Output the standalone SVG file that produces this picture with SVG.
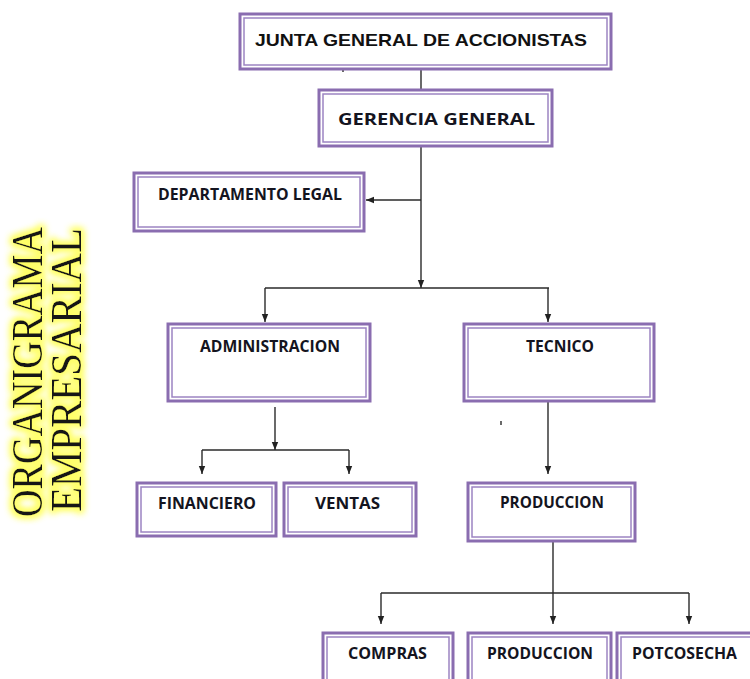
<svg xmlns="http://www.w3.org/2000/svg" width="750" height="679" viewBox="0 0 750 679">
<defs>
<style>
.outer{fill:#fff;stroke:#8a6db0;stroke-width:3}
.inner{fill:none;stroke:#9c84c2;stroke-width:1.5}
.lbl{font-family:"Open Sans",Lato,"Liberation Sans",sans-serif;font-weight:bold;fill:#141420;font-size:16px}
.con{fill:none;stroke:#2a2a2a;stroke-width:1.4}
.title{font-family:"Liberation Serif","DejaVu Serif",serif;font-size:44px;fill:#151515}
</style>
<marker id="arr" markerUnits="userSpaceOnUse" markerWidth="8" markerHeight="8" viewBox="0 0 8 8" refX="8" refY="4" orient="auto">
<path d="M0,0.8 L8,4 L0,7.2 Z" fill="#222"/>
</marker>
<filter id="glow" x="-20%" y="-20%" width="140%" height="140%">
<feMorphology in="SourceAlpha" operator="dilate" radius="2" result="d"/>
<feGaussianBlur in="d" stdDeviation="3.5" result="b"/>
<feFlood flood-color="#ffff66"/>
<feComposite in2="b" operator="in" result="g"/>
<feMerge><feMergeNode in="g"/><feMergeNode in="g"/><feMergeNode in="SourceGraphic"/></feMerge>
</filter>
</defs>
<rect width="750" height="679" fill="#fff"/>

<g id="title" filter="url(#glow)">
<text class="title" transform="translate(42,517) rotate(-90)" textLength="290" lengthAdjust="spacingAndGlyphs">ORGANIGRAMA</text>
<text class="title" transform="translate(81,512) rotate(-90)" textLength="284" lengthAdjust="spacingAndGlyphs">EMPRESARIAL</text>
</g>

<g id="connectors">
<path class="con" d="M421,70 V89"/>
<path class="con" d="M343,68 V72"/>
<path class="con" d="M421,147 V288" marker-end="url(#arr)"/>
<path class="con" d="M421,200 H366" marker-end="url(#arr)"/>
<path class="con" d="M265,288 H549"/>
<path class="con" d="M265,288 V322" marker-end="url(#arr)"/>
<path class="con" d="M548,288 V322" marker-end="url(#arr)"/>
<path class="con" d="M275,407 V450" marker-end="url(#arr)"/>
<path class="con" d="M202,450 H349"/>
<path class="con" d="M202,450 V474" marker-end="url(#arr)"/>
<path class="con" d="M349,450 V474" marker-end="url(#arr)"/>
<path class="con" d="M548,402 V474" marker-end="url(#arr)"/>
<path class="con" d="M501,421 V425"/>
<path class="con" d="M553,541 V624" marker-end="url(#arr)"/>
<path class="con" d="M381,593 H689"/>
<path class="con" d="M381,593 V624" marker-end="url(#arr)"/>
<path class="con" d="M689,593 V624" marker-end="url(#arr)"/>
</g>

<g id="junta">
<rect class="outer" x="240" y="14" width="371" height="55"/>
<rect class="inner" x="244" y="18" width="363" height="47"/>
<text x="255" y="46" font-family="'Liberation Sans',Arial,sans-serif" font-weight="bold" font-size="17" fill="#111" textLength="332" lengthAdjust="spacingAndGlyphs">JUNTA GENERAL DE ACCIONISTAS</text>
</g>

<g id="gerencia">
<rect class="outer" x="319" y="90" width="233" height="56"/>
<rect class="inner" x="323" y="94" width="225" height="48"/>
<text class="lbl" x="338" y="125" font-size="21" textLength="197" lengthAdjust="spacingAndGlyphs">GERENCIA GENERAL</text>
</g>

<g id="legal">
<rect class="outer" x="134" y="173" width="230" height="58"/>
<rect class="inner" x="138" y="177" width="222" height="50"/>
<text class="lbl" x="158" y="200" textLength="184" lengthAdjust="spacingAndGlyphs">DEPARTAMENTO LEGAL</text>
</g>

<g id="administracion">
<rect class="outer" x="168" y="324" width="202" height="77"/>
<rect class="inner" x="172" y="328" width="194" height="69"/>
<text class="lbl" x="200" y="352" textLength="140" lengthAdjust="spacingAndGlyphs">ADMINISTRACION</text>
</g>

<g id="tecnico">
<rect class="outer" x="464" y="324" width="190" height="77"/>
<rect class="inner" x="468" y="328" width="182" height="69"/>
<text class="lbl" x="526" y="352" textLength="68" lengthAdjust="spacingAndGlyphs">TECNICO</text>
</g>

<g id="financiero">
<rect class="outer" x="137" y="483" width="139" height="53"/>
<rect class="inner" x="141" y="487" width="131" height="45"/>
<text class="lbl" x="158" y="509" textLength="98" lengthAdjust="spacingAndGlyphs">FINANCIERO</text>
</g>

<g id="ventas">
<rect class="outer" x="284" y="483" width="132" height="53"/>
<rect class="inner" x="288" y="487" width="124" height="45"/>
<text class="lbl" x="315" y="509" textLength="65" lengthAdjust="spacingAndGlyphs">VENTAS</text>
</g>

<g id="produccion1">
<rect class="outer" x="468" y="483" width="167" height="58"/>
<rect class="inner" x="472" y="487" width="159" height="50"/>
<text class="lbl" x="500" y="508" textLength="104" lengthAdjust="spacingAndGlyphs">PRODUCCION</text>
</g>

<g id="compras">
<rect class="outer" x="323" y="633" width="130" height="70"/>
<rect class="inner" x="327" y="637" width="122" height="62"/>
<text class="lbl" x="348" y="659" textLength="79" lengthAdjust="spacingAndGlyphs">COMPRAS</text>
</g>

<g id="produccion2">
<rect class="outer" x="468" y="633" width="143" height="70"/>
<rect class="inner" x="472" y="637" width="135" height="62"/>
<text class="lbl" x="487" y="659" textLength="106" lengthAdjust="spacingAndGlyphs">PRODUCCION</text>
</g>

<g id="potcosecha">
<rect class="outer" x="617" y="633" width="150" height="70"/>
<rect class="inner" x="621" y="637" width="142" height="62"/>
<text class="lbl" x="632" y="659" textLength="105" lengthAdjust="spacingAndGlyphs">POTCOSECHA</text>
</g>
</svg>
